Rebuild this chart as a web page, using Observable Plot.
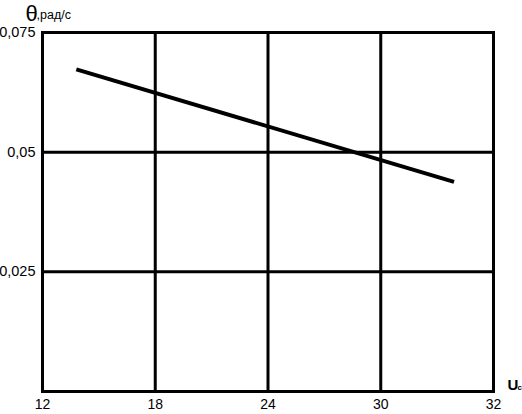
<!DOCTYPE html>
<html><head><meta charset="utf-8">
<script src="https://cdn.jsdelivr.net/npm/d3@7"></script>
<script src="https://cdn.jsdelivr.net/npm/@observablehq/plot@0.6"></script>
<style>body{margin:0;background:#fff} svg{display:block}</style>
</head><body><div id="chart"></div>
<script>
const xTicks = [12, 18, 24, 30, 32];
const yTicks = [0.025, 0.05, 0.075];
const yTickLabels = ["0,025", "0,05", "0,075"];
const lineU = [13.8, 31.3];
const lineTheta = [0.0673, 0.0438];
const yTitle = "θ";
const yUnit = ",рад/с";
const xTitle = "U";
const xSub = "c";

const data = lineU.map((u, i) => ({u, theta: lineTheta[i]}));
const font = "'Liberation Sans', Arial, sans-serif";

const plot = Plot.plot({
  width: 522, height: 414,
  marginLeft: 42, marginRight: 29, marginTop: 32, marginBottom: 23,
  style: {fontFamily: font, fontSize: "14px", background: "#fff", color: "#000", overflow: "visible"},
  x: {type: "linear", domain: xTicks},
  y: {type: "linear", domain: [0, 0.075]},
  marks: [
    Plot.ruleX(xTicks.slice(1, -1), {stroke: "#000", strokeWidth: 3}),
    Plot.ruleY(yTicks.slice(0, -1), {stroke: "#000", strokeWidth: 3}),
    Plot.frame({stroke: "#000", strokeWidth: 3}),
    Plot.line(data, {x: "u", y: "theta", stroke: "#000", strokeWidth: 4, strokeLinecap: "butt"}),
    Plot.axisX({ticks: xTicks, tickSize: 0, tickPadding: 8, label: null, tickFormat: d => String(d), fontSize: 14}),
    Plot.axisY({ticks: yTicks, tickSize: 0, tickPadding: 7, label: null, tickFormat: d => yTickLabels[yTicks.indexOf(d)], fontSize: 14.5}),
    Plot.text([yTitle], {text: d => d, frameAnchor: "top-left", dx: -17, dy: -12, textAnchor: "start", lineAnchor: "bottom", fontSize: 22}),
    Plot.text([yUnit], {text: d => d, frameAnchor: "top-left", dx: -6, dy: -14, textAnchor: "start", lineAnchor: "bottom", fontSize: 12.5}),
    Plot.text([xTitle], {text: d => d, frameAnchor: "bottom-right", dx: 14, dy: -2, textAnchor: "start", lineAnchor: "bottom", fontSize: 15, fontWeight: "bold"}),
    Plot.text([xSub], {text: d => d, frameAnchor: "bottom-right", dx: 24, dy: -2, textAnchor: "start", lineAnchor: "bottom", fontSize: 8, fontWeight: "bold"})
  ]
});
document.getElementById("chart").appendChild(plot);
</script>
</body></html>
